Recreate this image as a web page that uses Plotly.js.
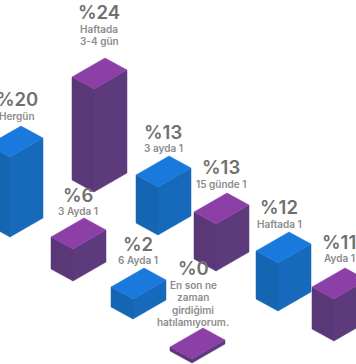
<!DOCTYPE html>
<html><head><meta charset="utf-8">
<script src="https://cdn.plot.ly/plotly-3.0.0.min.js"></script>
<style>html,body{margin:0;padding:0;background:#fff;overflow:hidden}#c{width:356px;height:364px}</style>
</head><body><div id="c"></div>
<script>
// Values
var percents  = ['%20','%24','%6','%13','%2','%13','%0','%12','%11'];
var captions  = [['Hergün'],['Haftada','3-4 gün'],['3 Ayda 1'],['3 ayda 1'],['6 Ayda 1'],['15 günde 1'],['En son ne','zaman','girdiğimi','hatılamıyorum.'],['Haftada 1'],['Ayda 1']];
var barHeights = [80,103,32,48,20,47,4,48,42];
var families   = ['blue','purple','purple','blue','blue','purple','purple','blue','purple'];
// Placement of each bar on the page (front-bottom corner) and of its label
var frontX = [10,94,73,158,133,216,192,278,334];
var baseY  = [237,192,281,235,319,271,363,311,341];
var labelX = [17,99,78,163,138,221,193,279,339];
var labelY = [99,12,195,132,244,167,268,207,242];

var palette = {
  blue:   {top:'#1a79dc', left:'#1665b2', right:'#1769bb'},
  purple: {top:'#8d3fa8', left:'#5a3878', right:'#5c3a7c'}
};
var toRight = [33,-19], toBack = [-22,-12];

function face(xs, ys, color){
  return {type:'scatter', mode:'lines', x:xs.concat(xs[0]), y:ys.concat(ys[0]), fill:'toself',
    fillcolor:color, line:{color:color,width:0.5}, hoverinfo:'skip', showlegend:false};
}
var traces = [];
barHeights.forEach(function(h,i){
  var x=frontX[i], b=baseY[i], t=b-h, c=palette[families[i]];
  var rx=x+toRight[0], ry=toRight[1], lx=x+toBack[0], ly=toBack[1];
  traces.push(face([x,lx,lx,x],[b,b+ly,t+ly,t],c.left));
  traces.push(face([x,rx,rx,x],[b,b+ry,t+ry,t],c.right));
  traces.push(face([x,rx,x+toRight[0]+toBack[0],lx],[t,t+ry,t+ry+ly,t+ly],c.top));
});
var annotations=[];
percents.forEach(function(p,i){
  annotations.push({x:labelX[i],y:labelY[i],text:p,showarrow:false,xanchor:'center',yanchor:'middle',borderpad:0,
    font:{family:'Inter, sans-serif',size:18.5,weight:600,color:'#707070'}});
  captions[i].forEach(function(line,k){
    annotations.push({x:labelX[i],y:labelY[i]+16.5+k*12.7,text:line,showarrow:false,xanchor:'center',yanchor:'middle',borderpad:0,
      font:{family:'Inter, sans-serif',size:10,weight:600,color:'#8c8c8c'}});
  });
});
Plotly.newPlot('c',traces,{
  width:356,height:364,margin:{l:0,r:0,t:0,b:0},paper_bgcolor:'#fff',plot_bgcolor:'#fff',showlegend:false,
  xaxis:{range:[0,356],visible:false,fixedrange:true},
  yaxis:{range:[364,0],visible:false,fixedrange:true},
  annotations:annotations
},{staticPlot:true,displayModeBar:false});
</script></body></html>
